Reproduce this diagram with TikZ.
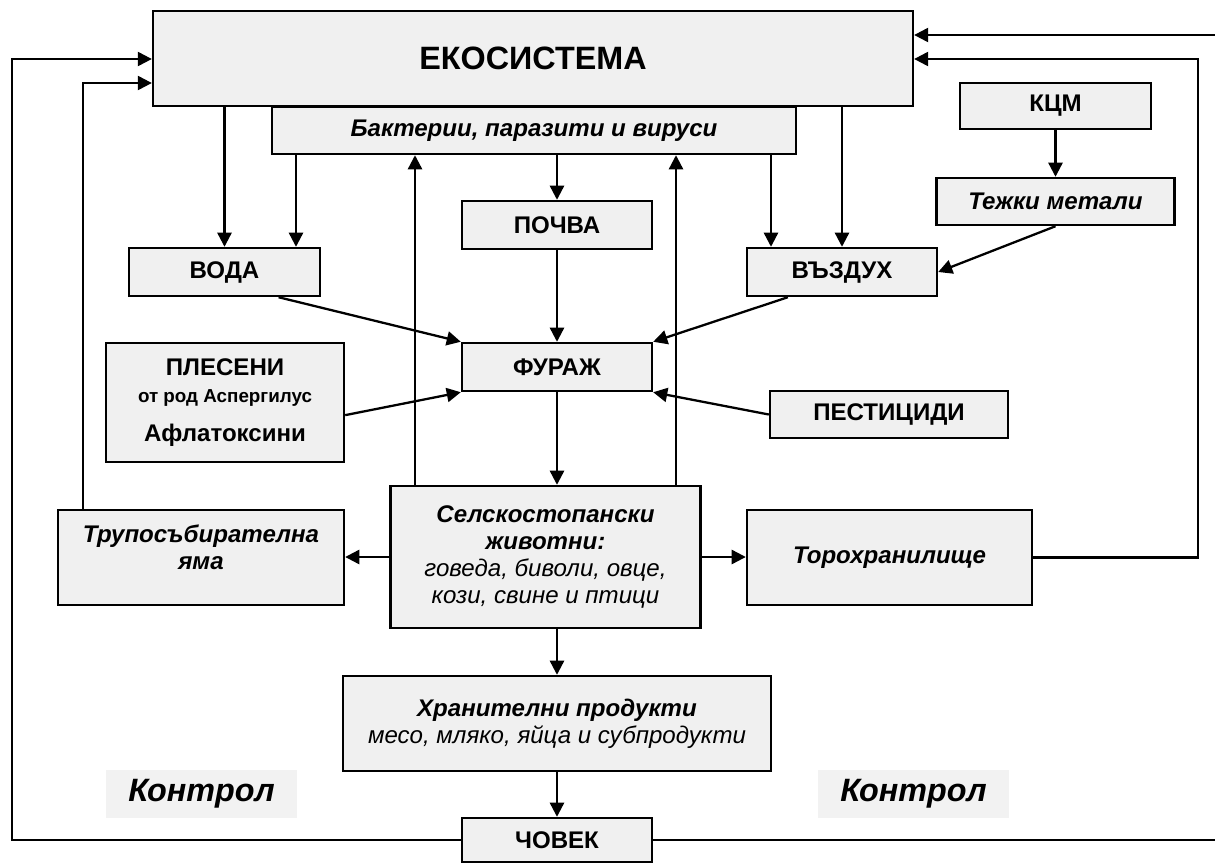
\documentclass[tikz,border=0pt]{standalone}
\usepackage{fontspec}
\setmainfont{Liberation Sans}
\usetikzlibrary{positioning, arrows.meta}

\newcommand{\bitxt}[1]{{\bfseries\itshape #1}}
\newcommand{\itxt}[1]{{\mdseries\itshape #1}}

\begin{document}
\begin{tikzpicture}[
    x=0.02cm, y=-0.02cm,
    element/.style={rectangle, draw, line width=1.4pt, fill=black!6, align=center, inner sep=2pt, font=\fontsize{13.7}{15.4}\selectfont\bfseries},
    ctrl/.style={rectangle, fill=black!5, minimum width=3.82cm, minimum height=0.96cm, font=\fontsize{18.4}{20}\selectfont\bfseries\itshape},
    arrow/.style={-{Triangle[length=8pt, width=8pt]}, line width=1.3pt}
]
\useasboundingbox (0,0) rectangle (1215,863);

% boxes
\node[element, minimum width=15.2cm, minimum height=1.9cm, font=\fontsize{18.4}{20}\selectfont\bfseries] (eko) at (533,58.5) {ЕКОСИСТЕМА};
\node[element, minimum width=10.48cm, minimum height=0.94cm] (bact) at (534,130.5) {\bitxt{Бактерии, паразити и вируси}};
\node[element, minimum width=3.82cm, minimum height=0.92cm] (kcm) at (1055.5,106) {КЦМ};
\node[element, minimum width=4.76cm, minimum height=0.94cm] (metali) at (1055.5,201.5) {\bitxt{Тежки метали}};
\node[element, minimum width=3.82cm, minimum height=0.96cm] (voda) at (224.5,272) {ВОДА};
\node[element, minimum width=3.8cm, minimum height=0.96cm] (pochva) at (557,225) {ПОЧВА};
\node[element, minimum width=3.8cm, minimum height=0.96cm] (vazduh) at (842,272) {ВЪЗДУХ};
\node[element, minimum width=3.8cm, minimum height=0.96cm] (furazh) at (557,367) {ФУРАЖ};
\node[element, minimum width=4.76cm, minimum height=2.38cm] (plesen) at (225,402.5)
    {ПЛЕСЕНИ\\ {\fontsize{10.7}{12}\selectfont от род Аспергилус}\\[7pt] Афлатоксини};
\node[element, minimum width=4.76cm, minimum height=0.94cm] (pesticidi) at (889,414.5) {ПЕСТИЦИДИ};
\node[element, minimum width=6.2cm, minimum height=2.84cm] (zhivotni) at (545.5,557)
    {\bitxt{Селскостопански}\\ \bitxt{животни:}\\ \itxt{говеда, биволи, овце,}\\ \itxt{кози, свине и птици}};
\node[element, minimum width=5.72cm, minimum height=1.9cm, text depth=12pt] (yama) at (201,557.5) {\bitxt{Трупосъбирателна}\\ \bitxt{яма}};
\node[element, minimum width=5.7cm, minimum height=1.9cm] (tor) at (889.5,557.5) {\bitxt{Торохранилище}};
\node[element, minimum width=8.56cm, minimum height=1.9cm] (hrana) at (557,723.5)
    {\bitxt{Хранителни продукти}\\ \itxt{месо, мляко, яйца и субпродукти}};
\node[element, minimum width=3.8cm, minimum height=0.88cm] (chovek) at (557,840) {ЧОВЕК};
\node[ctrl] (ctrlL) at (201.5,794) {Контрол};
\node[ctrl] (ctrlR) at (913.5,794) {Контрол};

% arrows down from the ecosystem
\draw[arrow] (eko.south -| voda.north) -- (voda.north);
\draw[arrow] (bact.south -| 296,0) -- (voda.north -| 296,0);
\draw[arrow] (bact.south -| pochva.north) -- (pochva.north);
\draw[arrow] (bact.south -| 771,0) -- (vazduh.north -| 771,0);
\draw[arrow] (eko.south -| vazduh.north) -- (vazduh.north);
\draw[arrow] (kcm.south) -- (metali.north);
\draw[arrow] (metali.south) -- (vazduh.east);

% into the fodder
\draw[arrow] (voda.-25) -- (furazh.north west);
\draw[arrow] (pochva.south) -- (furazh.north);
\draw[arrow] (vazduh.205) -- (furazh.north east);
\draw[arrow] (plesen.-6) -- (furazh.south west);
\draw[arrow] (pesticidi.west) -- (furazh.south east);
\draw[arrow] (furazh.south) -- (furazh.south |- zhivotni.north);

% from the animals
\draw[arrow] (zhivotni.north -| 415,0) -- (bact.south -| 415,0);
\draw[arrow] (zhivotni.north -| 676,0) -- (bact.south -| 676,0);
\draw[arrow] (zhivotni.west) -- (zhivotni.west -| yama.east);
\draw[arrow] (zhivotni.east) -- (zhivotni.east -| tor.west);
\draw[arrow] (zhivotni.south -| hrana.north) -- (hrana.north);
\draw[arrow] (hrana.south) -- (chovek.north);

% back to the ecosystem
\draw[arrow] (yama.north -| 83,0) |- (eko.west |- 0,83);
\draw[arrow] (chovek.west) -| (12,59) -- (eko.west |- 0,59);
\draw[arrow] (tor.east) -| (1198,59) -- (eko.east |- 0,59);
\draw[arrow] (chovek.east) -- (1235,840) -- (1235,35) -- (eko.east |- 0,35);

\end{tikzpicture}
\end{document}
